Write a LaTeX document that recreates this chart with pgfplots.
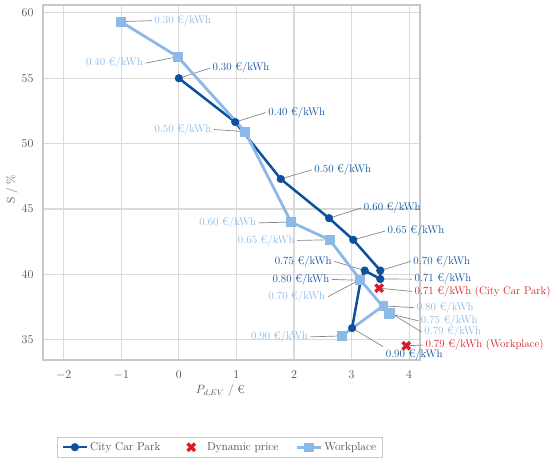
\documentclass[border=0pt]{standalone}
\usepackage{fontspec}
\usepackage{pgfplots}
\pgfplotsset{compat=1.18}
\definecolor{cdark}{RGB}{12,80,158}
\definecolor{clight}{RGB}{140,185,230}
\definecolor{cred}{RGB}{215,30,40}
\definecolor{cgrid}{RGB}{218,218,218}
\definecolor{cframe}{RGB}{200,200,200}
\definecolor{ctick}{RGB}{80,80,80}
\definecolor{cpin}{RGB}{135,135,135}
\tikzset{
  lf/.style={font=\fontsize{11}{13}\selectfont, inner sep=2.5pt},
  dl/.style={lf, text=cdark},
  ll/.style={lf, text=clight},
  rl/.style={lf, text=cred},
  pin/.style={draw=cpin, line width=0.7pt},
}
\begin{document}
\begin{tikzpicture}
\begin{axis}[
  scale only axis, width=377pt, height=355pt,
  xmin=-2.36, xmax=4.19, ymin=33.46, ymax=60.6,
  xtick={-2,-1,0,1,2,3,4}, ytick={35,40,45,50,55,60},
  grid=major, major grid style={cgrid, line width=1.1pt},
  axis line style={cframe, line width=1.2pt},
  major tick length=0pt,
  tick label style={font=\fontsize{11.5}{13}\selectfont, text=ctick},
  xticklabel style={yshift=-7pt},
  yticklabel style={xshift=-6pt},
  xlabel={$P_{d,EV}$ / €},
  xlabel style={at={(axis description cs:0.47,-0.087)}, anchor=center, font=\fontsize{11.5}{13}\selectfont, text=ctick},
  ylabel={S / \%},
  ylabel style={at={(axis description cs:-0.082,0.48)}, anchor=center, font=\fontsize{11.5}{13}\selectfont, text=ctick},
  clip=false,
  legend style={at={(0.469,-0.217)}, anchor=north, draw=cframe, line width=0.8pt,
    font=\fontsize{11.5}{13}\selectfont, text=ctick, inner xsep=4pt, inner ysep=3pt,
    /tikz/every even column/.append style={column sep=15pt}},
  legend columns=3,
  legend cell align=left,
  legend image code/.code={
    \path (0cm,0cm) (0.85cm,0cm);
    \draw[mark repeat=2,mark phase=2,#1] plot coordinates {(0cm,0cm) (0.425cm,0cm) (0.85cm,0cm)};
  },
]
% --- City Car Park annotations
\node[dl, anchor=west] (c30) at (axis cs:0.54,55.77) {0.30 €/kWh};
\draw[pin] (axis cs:0,55) -- (c30.west);
\node[dl, anchor=west] (c40) at (axis cs:1.51,52.38) {0.40 €/kWh};
\draw[pin] (axis cs:0.98,51.65) -- (c40.west);
\node[dl, anchor=west] (c50) at (axis cs:2.31,48.0) {0.50 €/kWh};
\draw[pin] (axis cs:1.77,47.3) -- (c50.west);
\node[dl, anchor=west] (c60) at (axis cs:3.17,45.08) {0.60 €/kWh};
\draw[pin] (axis cs:2.61,44.3) -- (c60.west);
\node[dl, anchor=west] (c65) at (axis cs:3.58,43.31) {0.65 €/kWh};
\draw[pin] (axis cs:3.03,42.65) -- (c65.west);
\node[dl, anchor=west] (c70) at (axis cs:4.03,41.0) {0.70 €/kWh};
\draw[pin] (axis cs:3.50,40.3) -- (c70.west);
\node[dl, anchor=west] (c71) at (axis cs:4.05,39.64) {0.71 €/kWh};
\draw[pin] (axis cs:3.50,39.65) -- (c71.west);
\node[dl, anchor=east] (c75) at (axis cs:2.70,41.0) {0.75 €/kWh};
\draw[pin] (axis cs:3.23,40.3) -- (c75.east);
\node[dl, anchor=east] (c80) at (axis cs:2.66,39.62) {0.80 €/kWh};
\draw[pin] (axis cs:3.16,39.55) -- (c80.east);
\node[dl, anchor=west] (c90) at (axis cs:3.55,33.85) {0.90 €/kWh};
\draw[pin] (axis cs:3.01,35.9) -- (c90.north west);
% --- dynamic price annotations
\node[rl, anchor=west] (r1) at (axis cs:4.05,38.7) {0.71 €/kWh (City Car Park)};
\draw[pin] (axis cs:3.48,38.95) -- (r1.west);
\node[rl, anchor=west] (r2) at (axis cs:4.24,34.6) {0.79 €/kWh (Workplace)};
\draw[pin] (axis cs:3.95,34.55) -- (r2.west);
% --- Workplace annotations
\node[ll, anchor=west] (w30) at (axis cs:-0.47,59.4) {0.30 €/kWh};
\draw[pin] (axis cs:-1.01,59.33) -- (w30.west);
\node[ll, anchor=east] (w40) at (axis cs:-0.58,56.15) {0.40 €/kWh};
\draw[pin] (axis cs:-0.02,56.65) -- (w40.east);
\node[ll, anchor=east] (w50) at (axis cs:0.61,51.08) {0.50 €/kWh};
\draw[pin] (axis cs:1.15,50.92) -- (w50.east);
\node[ll, anchor=east] (w60) at (axis cs:1.39,43.95) {0.60 €/kWh};
\draw[pin] (axis cs:1.95,44.0) -- (w60.east);
\node[ll, anchor=east] (w65) at (axis cs:2.06,42.6) {0.65 €/kWh};
\draw[pin] (axis cs:2.62,42.65) -- (w65.east);
\node[ll, anchor=east] (w70) at (axis cs:2.59,38.3) {0.70 €/kWh};
\draw[pin] (axis cs:3.15,39.6) -- (w70.east);
\node[ll, anchor=west] (w80) at (axis cs:4.09,37.46) {0.80 €/kWh};
\draw[pin] (axis cs:3.55,37.6) -- (w80.west);
\node[ll, anchor=west] (w75) at (axis cs:4.16,36.46) {0.75 €/kWh};
\draw[pin] (axis cs:3.65,37.0) -- (w75.west);
\node[ll, anchor=west] (w79) at (axis cs:4.22,35.6) {0.79 €/kWh};
\draw[pin] (axis cs:3.66,37.1) -- (w79.west);
\node[ll, anchor=east] (w90) at (axis cs:2.29,35.23) {0.90 €/kWh};
\draw[pin] (axis cs:2.83,35.3) -- (w90.east);

\addplot[cdark, line width=2.5pt, mark=*, mark size=3.8pt, mark options={solid, fill=cdark, line width=0.5pt}] table {
x y
0 55
0.98 51.65
1.77 47.3
2.61 44.3
3.03 42.65
3.50 40.3
3.50 39.65
3.23 40.3
3.16 39.55
3.01 35.9
};
\addplot[only marks, cred, mark=x, mark size=5.2pt, line width=3.4pt] coordinates {
(3.48,38.95) (3.95,34.55)
};
\addplot[clight, line width=2.8pt, mark=square*, mark size=4.4pt, mark options={solid, fill=clight, line width=0.5pt}] table {
x y
-1.01 59.33
-0.02 56.65
1.15 50.92
1.95 44.0
2.62 42.65
3.15 39.6
3.65 37.0
3.66 37.1
3.55 37.6
2.83 35.3
};
\legend{City Car Park, Dynamic price, Workplace}
\end{axis}
\pgfresetboundingbox
\path ([shift={(-43pt,-102pt)}]current axis.south west) rectangle ([shift={(130pt,5pt)}]current axis.north east);
\end{tikzpicture}
\end{document}
